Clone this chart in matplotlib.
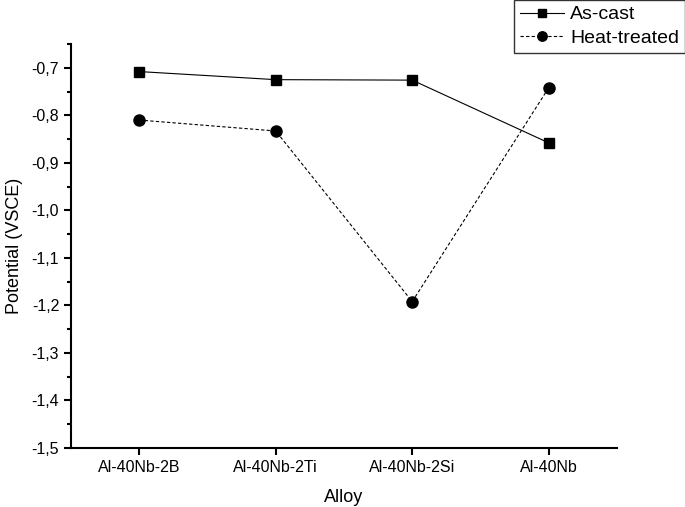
import matplotlib
matplotlib.use("Agg")
import matplotlib.pyplot as plt
from matplotlib.ticker import MultipleLocator, FuncFormatter

plt.rcParams['font.family'] = ['Liberation Sans', 'DejaVu Sans']

alloys = ["Al-40Nb-2B", "Al-40Nb-2Ti", "Al-40Nb-2Si", "Al-40Nb"]
as_cast = [-0.708, -0.725, -0.726, -0.858]
heat_treated = [-0.810, -0.833, -1.192, -0.742]

fig = plt.figure(figsize=(6.85, 5.07), dpi=100)
ax = fig.add_axes([0.1036, 0.1164, 0.7971, 0.7968])

x = list(range(1, len(alloys) + 1))
l1, = ax.plot(x, as_cast, color='black', lw=0.8, marker='s', ms=7, label='As-cast')
l2, = ax.plot(x, heat_treated, color='black', lw=0.8, ls=(0, (3, 2)), marker='o', ms=8,
              label='Heat-treated')

ax.set_xlim(0.5, 4.5)
ax.set_ylim(-1.5, -0.65)
ax.set_xticks(x)
ax.set_xticklabels(alloys)
ax.yaxis.set_major_locator(MultipleLocator(0.1))
ax.yaxis.set_minor_locator(MultipleLocator(0.05))
ax.yaxis.set_major_formatter(FuncFormatter(lambda v, p: f"{v:.1f}".replace('.', ',')))

for s in ['top', 'right']:
    ax.spines[s].set_visible(False)
for s in ['left', 'bottom']:
    ax.spines[s].set_linewidth(1.5)
ax.tick_params(which='major', direction='out', length=5, width=1.5, labelsize=11.5)
ax.tick_params(which='minor', direction='out', length=3, width=1.5)

ax.set_xlabel("Alloy", fontsize=13, labelpad=10)
ax.set_ylabel("Potential (VSCE)", fontsize=13, labelpad=6)

leg = fig.legend(handles=[l1, l2], loc='upper right', bbox_to_anchor=(1.0, 1.0),
                 fontsize=14, frameon=True, fancybox=False, edgecolor='black',
                 handlelength=2.3, borderpad=0.3, labelspacing=0.3, handletextpad=0.3,
                 borderaxespad=0.0, markerscale=0.85)
leg.get_frame().set_linewidth(1.0)

fig.savefig("out.png", dpi=100)
